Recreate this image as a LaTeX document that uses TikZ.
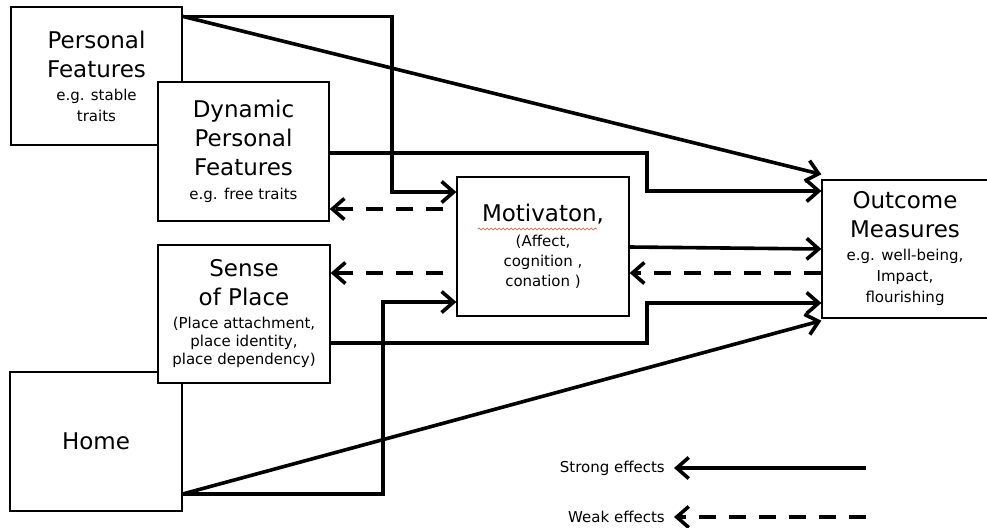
\documentclass[tikz,border=0pt]{standalone}
\usepackage{fontspec}
\setmainfont{DejaVu Sans}
\usetikzlibrary{arrows.meta, decorations.pathmorphing}
\definecolor{ink}{HTML}{000000}
\definecolor{spellRed}{HTML}{e8483c}
\newcommand{\headfont}{\fontsize{23}{29}\selectfont}
\newcommand{\egfont}{\fontsize{15}{20}\selectfont}

\begin{document}
\begin{tikzpicture}[
    x=1pt, y=-1pt,
    >={Straight Barb[length=12pt, width=21pt]},
    box/.style={draw=ink, line width=1.3pt, fill=white, inner sep=0pt,
                align=center, font=\headfont},
    strong/.style={->, line width=3.6pt, draw=ink},
    weak/.style={->, line width=3.6pt, draw=ink,
                 dash pattern=on 17pt off 13pt},
    legtext/.style={font=\egfont, inner xsep=9pt, inner ysep=0pt},
    squiggle/.style={decorate, draw=spellRed, line width=0.6pt,
                     decoration={snake, amplitude=0.9pt, segment length=4pt}},
    ]
\useasboundingbox (0,0) rectangle (987,527);

% ====================================================================
% Boxes (back ones first, so the front ones cover them)
% ====================================================================
\node[box, minimum width=171pt, minimum height=138pt] (pf) at (96.5,76)
  {Personal\\Features\\[-6pt]{\egfont e.g. stable}\\[-8pt]{\egfont traits}};
\node[box, minimum width=171pt, minimum height=139pt] (dpf) at (243.5,151.5)
  {Dynamic\\Personal\\Features\\[-5pt]{\egfont e.g. free traits}};

\node[box, minimum width=172pt, minimum height=139pt] (home) at (96,441.5)
  {Home};
\node[box, minimum width=172pt, minimum height=138pt] (sop) at (244,314)
  {Sense\\of Place\\[-6pt]{\egfont (Place attachment,}\\[-11pt]
   {\egfont place identity,}\\[-11pt]{\egfont place dependency)}};

\node[box, minimum width=172pt, minimum height=139pt] (mot) at (543,246.5)
  {Motivaton,\\[-4pt]{\egfont (Affect,}\\[-9pt]{\egfont cognition ,}\\[-9pt]
   {\egfont conation )}};
% spell-check underline
\draw[squiggle] (478,229) -- (597,229);

\node[box, minimum width=166pt, minimum height=138pt] (out) at (905,249)
  {Outcome\\Measures\\[-6pt]{\egfont e.g. well-being,}\\[-8pt]
   {\egfont Impact,}\\[-8pt]{\egfont flourishing}};

% ====================================================================
% Strong effects
% ====================================================================
\draw[strong] ([yshift=-10pt]pf.north east) -| (392,192)
  -- (mot.west |- 0,192);
\draw[strong] ([yshift=-10pt]pf.north east) -- ([yshift=5pt]out.north west);

\draw[strong] (dpf.east |- 0,153) -| (647,191) -- (out.west |- 0,191);
\draw[strong] (sop.east |- 0,343) -| (647,303) -- (out.west |- 0,303);

\draw[strong] (home.east |- 0,494) -| (383,302) -- (mot.west |- 0,302);
\draw[strong] (home.east |- 0,494) -- ([yshift=-2pt]out.south west);

\draw[strong] (mot.east |- 0,247) -- (out.west |- 0,249);

% ====================================================================
% Weak effects (feedback)
% ====================================================================
\draw[weak, shorten <=13pt] (mot.west |- 0,209) -- (dpf.east |- 0,209);
\draw[weak, shorten <=13pt] (mot.west |- 0,273) -- (sop.east |- 0,273);
\draw[weak] (out.west |- 0,273) -- (mot.east |- 0,273);

% ====================================================================
% Legend
% ====================================================================
\node[legtext, anchor=east] (strongtxt) at (674,468) {Strong effects};
\coordinate (strongend) at (866,468);
\draw[strong] (strongend) -- (strongtxt);

\node[legtext, anchor=east] (weaktxt) at (674,517) {Weak effects};
\coordinate (weakend) at (866,517);
\draw[weak] (weakend) -- (weaktxt);

\end{tikzpicture}
\end{document}
